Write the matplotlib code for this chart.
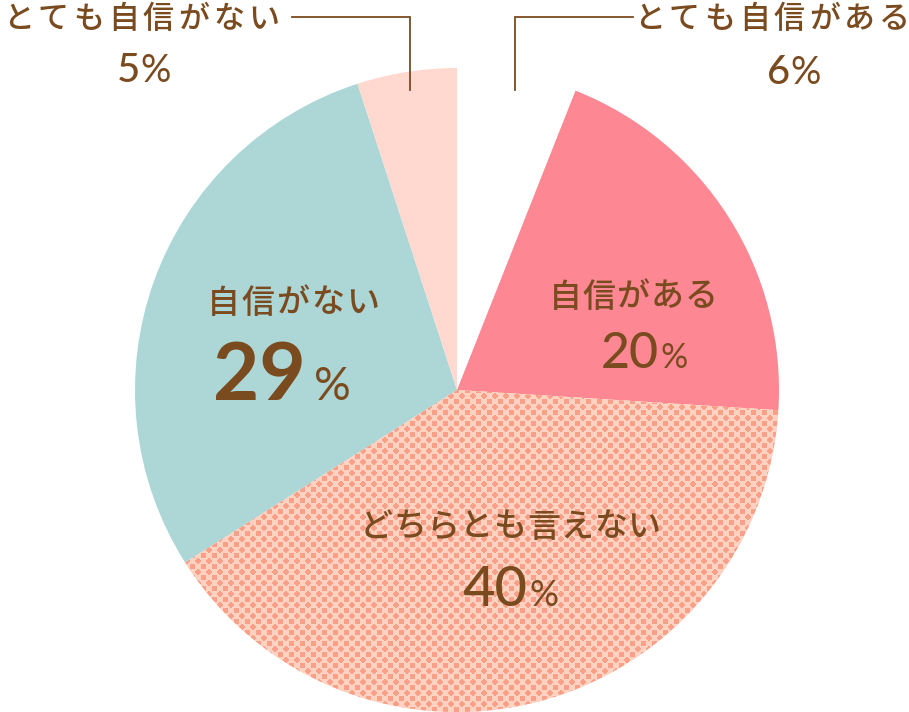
import numpy as np
import matplotlib.pyplot as plt

plt.rcParams['font.family'] = ['Noto Sans CJK JP', 'DejaVu Sans']

# data
labels = ['とても自信がある', '自信がある', 'どちらとも言えない', '自信がない', 'とても自信がない']
values = [6, 20, 40, 29, 5]
colors = ['#FFFFFF', '#FD8893', '#FFD2C2', '#ADD7D7', '#FFD9CF']

W, H = 909, 712
brown = '#7B4B20'

fig = plt.figure(figsize=(W / 100, H / 100), dpi=100)
ax = fig.add_axes([0, 0, 1, 1])


def Y(y):
    return H - y


wedges, _ = ax.pie(values, colors=colors, startangle=90, counterclock=False,
                   center=(457, Y(390)), radius=322,
                   wedgeprops=dict(linewidth=0), frame=True)

# dotted texture for the middle slice
p, r = 11.0, 2.9
yy, xx = np.mgrid[0:H, 0:W] + 0.5
def lat(ox, oy):
    dx = (xx - ox) % p
    dx = np.minimum(dx, p - dx)
    dy = (yy - oy) % p
    dy = np.minimum(dy, p - dy)
    return np.hypot(dx, dy)
d = np.minimum(lat(0, 0), lat(p / 2, p / 2))
bg = np.array([255, 210, 194]) / 255
dot = np.array([250, 160, 136]) / 255
img = np.where((d < r)[..., None], dot, bg)
im = ax.imshow(img, extent=(0, W, 0, H), origin='upper', zorder=3,
               interpolation='nearest')
im.set_clip_path(wedges[2])
ax.set_xlim(0, W)
ax.set_ylim(0, H)
ax.axis('off')


def spaced(xc, y, s, adv, size, **kw):
    n = len(s)
    x0 = xc - adv * (n - 1) / 2
    for i, ch in enumerate(s):
        ax.text(x0 + i * adv, Y(y), ch, fontsize=size * 0.72, color=brown,
                ha='center', va='center', zorder=5, fontweight='medium', **kw)


def num(x, y, n, nsize, psize, gap=0, weight='medium'):
    ax.text(x, Y(y), str(n), fontsize=nsize * 0.72, color=brown,
            ha='right', va='baseline', zorder=5, family='Lato',
            fontweight=weight)
    ax.text(x + gap, Y(y), '%', fontsize=psize * 0.72, color=brown,
            ha='left', va='baseline', zorder=5, family='Lato')


# inside labels
spaced(633, 297, labels[1], 34, 33)
num(659, 368, values[1], 50, 34, gap=2)

spaced(510, 527, labels[2], 33.5, 33)
num(527, 606, values[2], 56, 36, gap=2)

spaced(293, 303, labels[3], 35, 33)
num(306, 400, values[3], 80, 46, gap=8, weight='bold')

# outer labels
spaced(141, 19, labels[4], 35, 31)
num(140, 82, values[4], 40, 38)
spaced(772, 19, labels[0], 35, 31)
num(790, 84, values[0], 40, 38)

# leader lines
ax.plot([292, 410, 410], [Y(17), Y(17), Y(90)], color=brown, lw=1.3,
        zorder=5, solid_joinstyle='miter')
ax.plot([515, 515, 633], [Y(90), Y(17), Y(17)], color=brown, lw=1.3,
        zorder=5, solid_joinstyle='miter')

fig.savefig('out.png', dpi=100)
